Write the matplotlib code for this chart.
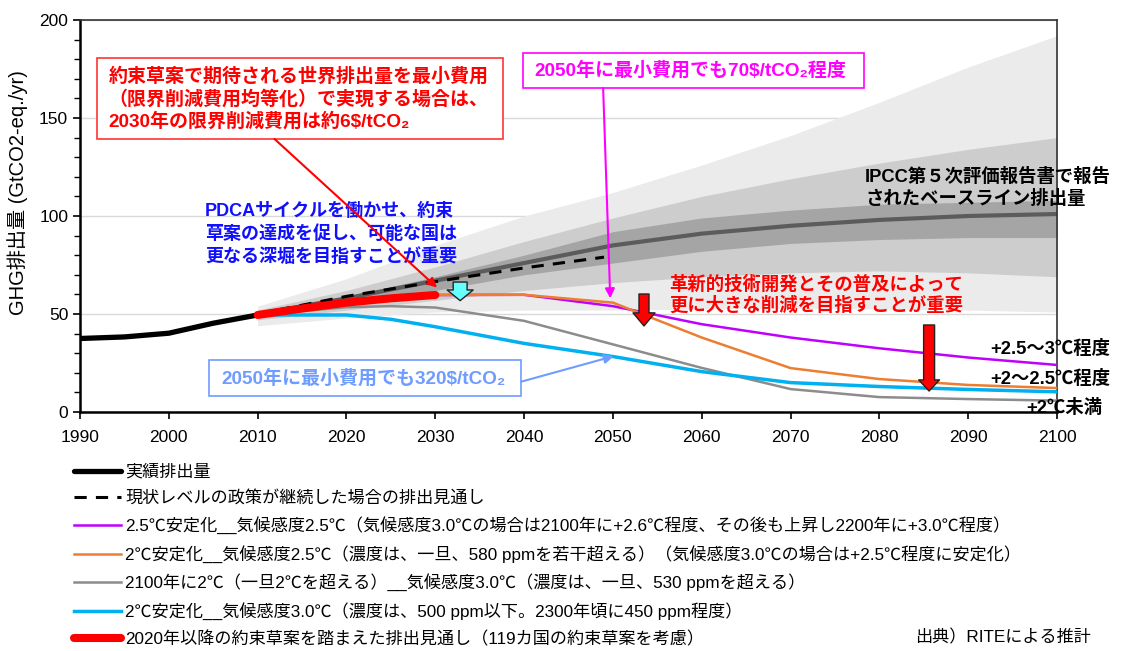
import matplotlib.pyplot as plt
from matplotlib.patches import Rectangle

plt.rcParams['font.family'] = ['Liberation Sans', 'Noto Sans CJK JP', 'DejaVu Sans']

# 実績排出量
hist_years = [1990, 1995, 2000, 2005, 2010]
hist_vals = [37.5, 38.3, 40.2, 45.3, 49.5]

# 約束草案を踏まえた排出見通し
indc_years = [2010, 2015, 2020, 2025, 2030]
indc_vals = [49.5, 52.8, 55.8, 58.0, 59.7]

# 現状レベルの政策が継続した場合
cp_years = [2010, 2020, 2030, 2040, 2049]
cp_vals = [50.0, 59.0, 66.5, 73.5, 79.0]

# 各シナリオ
sc_years = [2030, 2040, 2050, 2060, 2070, 2080, 2090, 2100]
s25_vals = [59.7, 59.8, 54.0, 44.8, 38.0, 32.5, 27.8, 24.0]
s2_580_vals = [59.7, 59.8, 55.8, 38.0, 22.4, 16.8, 13.8, 12.2]
gr_years = [2010, 2020, 2025, 2030, 2040, 2050, 2060, 2070, 2080, 2090, 2100]
s2_530_vals = [49.5, 53.5, 54.0, 53.3, 46.5, 34.5, 22.5, 11.7, 7.6, 6.6, 5.8]
cy_years = [2010, 2020, 2025, 2030, 2040, 2050, 2060, 2070, 2080, 2090, 2100]
s2_500_vals = [49.5, 49.5, 47.3, 43.5, 35.0, 28.3, 20.6, 15.0, 13.0, 11.5, 10.3]

# IPCC AR5 ベースラインの幅
band_years = [2010, 2020, 2030, 2040, 2050, 2060, 2070, 2080, 2090, 2100]
outer_lo = [44, 48, 51, 52, 52, 52.5, 53, 52.5, 52, 51]
outer_hi = [54, 68, 85, 100, 112, 126, 141, 158, 176, 192]
mid_lo = [47, 52, 57, 62, 66, 69, 71, 72, 71, 69]
mid_hi = [52, 62, 74, 87, 99, 110, 119, 127, 134, 140]
inner_lo = [48.5, 55, 62, 70, 76, 82, 86, 88, 89, 89]
inner_hi = [51, 59, 69, 80, 92, 99, 103, 106, 107, 108]
median = [50, 58, 67, 76, 85, 91, 95, 98, 100, 101]

fig = plt.figure(figsize=(11.29, 6.51), dpi=100)
ax = fig.add_axes([80 / 1129, 1 - 412 / 651, 977 / 1129, 392 / 651])

ax.fill_between(band_years, outer_lo, outer_hi, color='#ebebeb', lw=0, zorder=1)
ax.fill_between(band_years, mid_lo, mid_hi, color='#cdcdcd', lw=0, zorder=1)
ax.fill_between(band_years, inner_lo, inner_hi, color='#a5a5a5', lw=0, zorder=1)
ax.plot(band_years, median, color='#5c5c5c', lw=3, zorder=2)

l_hist, = ax.plot(hist_years, hist_vals, color='black', lw=3.8, solid_capstyle='round', zorder=4)
l_cp, = ax.plot(cp_years, cp_vals, color='black', lw=2.2, linestyle=(0, (4, 3)), zorder=4)
l_s25, = ax.plot(sc_years, s25_vals, color='#c000ff', lw=1.8, zorder=3)
l_580, = ax.plot(sc_years, s2_580_vals, color='#ed7d31', lw=1.8, zorder=3)
l_530, = ax.plot(gr_years, s2_530_vals, color='#8c8c8c', lw=1.8, zorder=3)
l_500, = ax.plot(cy_years, s2_500_vals, color='#00b0f0', lw=2.5, zorder=3)
l_indc, = ax.plot(indc_years, indc_vals, color='#ff0000', lw=5.8, solid_capstyle='round', zorder=5)

ax.set_xlim(1990, 2100)
ax.set_ylim(0, 200)
ax.set_xticks(range(1990, 2101, 10))
ax.set_yticks(range(0, 201, 50))
ax.set_yticks(range(0, 201, 10), minor=True)
ax.tick_params(axis='both', direction='out', labelsize=12.5, length=5, width=1.2)
ax.tick_params(axis='y', which='minor', direction='out', length=4, width=1)
ax.tick_params(axis='x', pad=8)
ax.yaxis.grid(True, color='#d9d9d9', lw=1)
ax.set_axisbelow(True)
for s in ['left', 'bottom']:
    ax.spines[s].set_linewidth(1.8)
for s in ['top', 'right']:
    ax.spines[s].set_linewidth(1.2)
    ax.spines[s].set_color('#333333')
ax.set_ylabel('GHG排出量 (GtCO2-eq./yr)', fontsize=14.5)
ax.yaxis.set_label_coords(-0.053, 0.56)

# 注記ボックス(赤)
ax.add_patch(Rectangle((1991.9, 139.3), 45.7, 41.3, fc='white', ec='#ff3333', lw=1.2, zorder=6))
red_lines = ['約束草案で期待される世界排出量を最小費用',
             '（限界削減費用均等化）で実現する場合は、',
             '2030年の限界削減費用は約6$/tCO₂']
for i, t in enumerate(red_lines):
    ax.text(1993.2, 171 - 11.3 * i, t, color='#ff0000', fontsize=13.7, fontweight='bold',
            va='center', ha='left', zorder=7)
ax.annotate('', xy=(2030.2, 63.5), xytext=(2011.9, 139.3),
            arrowprops=dict(arrowstyle='-|>', color='#ff0000', lw=1.5, mutation_scale=14,
                            shrinkA=0, shrinkB=0), zorder=7)

# PDCA
blue_lines = ['PDCAサイクルを働かせ、約束', '草案の達成を促し、可能な国は', '更なる深堀を目指すことが重要']
for i, t in enumerate(blue_lines):
    ax.text(2004.1, 102.5 - 11.7 * i, t, color='#1010ff', fontsize=13, fontweight='bold',
            va='center', ha='left', zorder=6)

# 2050年 70$/tCO2
ax.add_patch(Rectangle((2039.9, 165.3), 38.4, 17.9, fc='white', ec='#ff00ff', lw=1.2, zorder=6))
ax.text(2041.2, 174.2, '2050年に最小費用でも70$/tCO₂程度', color='#ff00ff', fontsize=13.7,
        fontweight='bold', va='center', ha='left', zorder=7)
ax.annotate('', xy=(2049.7, 58), xytext=(2048.9, 165.3),
            arrowprops=dict(arrowstyle='-|>', color='#ff00ff', lw=1.5, mutation_scale=14,
                            shrinkA=0, shrinkB=0), zorder=7)

# 2050年 320$/tCO2
ax.add_patch(Rectangle((2004.5, 8.2), 35.2, 18.3, fc='white', ec='#6f9cff', lw=1.2, zorder=6))
ax.text(2005.9, 17.3, '2050年に最小費用でも320$/tCO₂', color='#6f9cff', fontsize=13.7,
        fontweight='bold', va='center', ha='left', zorder=7)
ax.annotate('', xy=(2050.1, 28.5), xytext=(2039.7, 15.5),
            arrowprops=dict(arrowstyle='-|>', color='#6f9cff', lw=1.5, mutation_scale=14,
                            shrinkA=0, shrinkB=0), zorder=7)

# 下向き矢印
ax.annotate('', xy=(2032.8, 56.8), xytext=(2032.8, 66.3),
            arrowprops=dict(arrowstyle='simple,head_length=7.7,head_width=18.7,tail_width=10',
                            mutation_scale=1, fc='#66ffff', ec='#222222', lw=1,
                            shrinkA=0, shrinkB=0), zorder=7)
ax.annotate('', xy=(2053.5, 43.9), xytext=(2053.5, 60.2),
            arrowprops=dict(arrowstyle='simple,head_length=9.4,head_width=15.8,tail_width=7.2',
                            mutation_scale=1, fc='#ff0000', ec='#222222', lw=1,
                            shrinkA=0, shrinkB=0), zorder=7)
ax.annotate('', xy=(2085.6, 10.7), xytext=(2085.6, 44.4),
            arrowprops=dict(arrowstyle='simple,head_length=8,head_width=15,tail_width=7.9',
                            mutation_scale=1, fc='#ff0000', ec='#222222', lw=1,
                            shrinkA=0, shrinkB=0), zorder=7)

ax.text(2056.3, 64.8, '革新的技術開発とその普及によって', color='#ff0000', fontsize=13.2,
        fontweight='bold', va='center', ha='left', zorder=6)
ax.text(2056.3, 54.1, '更に大きな削減を目指すことが重要', color='#ff0000', fontsize=13.2,
        fontweight='bold', va='center', ha='left', zorder=6)

ax.text(2078.4, 119.9, 'IPCC第５次評価報告書で報告', color='black', fontsize=13.2,
        fontweight='bold', va='center', ha='left', zorder=6, clip_on=False)
ax.text(2078.4, 108.7, 'されたベースライン排出量', color='black', fontsize=13.2,
        fontweight='bold', va='center', ha='left', zorder=6, clip_on=False)

ax.text(2092.5, 32.1, '+2.5～3℃程度', fontsize=13.2, fontweight='bold', va='center',
        ha='left', zorder=6, clip_on=False)
ax.text(2092.5, 16.8, '+2～2.5℃程度', fontsize=13.2, fontweight='bold', va='center',
        ha='left', zorder=6, clip_on=False)
ax.text(2096.5, 2.0, '+2℃未満', fontsize=13.2, fontweight='bold', va='center',
        ha='left', zorder=6, clip_on=False)

labels = ['実績排出量',
          '現状レベルの政策が継続した場合の排出見通し',
          '2.5℃安定化__気候感度2.5℃（気候感度3.0℃の場合は2100年に+2.6℃程度、その後も上昇し2200年に+3.0℃程度）',
          '2℃安定化__気候感度2.5℃（濃度は、一旦、580 ppmを若干超える）（気候感度3.0℃の場合は+2.5℃程度に安定化）',
          '2100年に2℃（一旦2℃を超える）__気候感度3.0℃（濃度は、一旦、530 ppmを超える）',
          '2℃安定化__気候感度3.0℃（濃度は、500 ppm以下。2300年頃に450 ppm程度）',
          '2020年以降の約束草案を踏まえた排出見通し（119カ国の約束草案を考慮）']
fig.legend([l_hist, l_cp, l_s25, l_580, l_530, l_500, l_indc], labels,
           loc='upper left', bbox_to_anchor=(74 / 1129, 1 - 464 / 651), frameon=False,
           fontsize=12.3, handlelength=2.75, handletextpad=0.25, labelspacing=0.62,
           borderpad=0, borderaxespad=0)

fig.text(915 / 1129, 1 - 637 / 651, '出典）RITEによる推計', fontsize=12.3, va='center', ha='left')

fig.savefig('out.png', dpi=100)
